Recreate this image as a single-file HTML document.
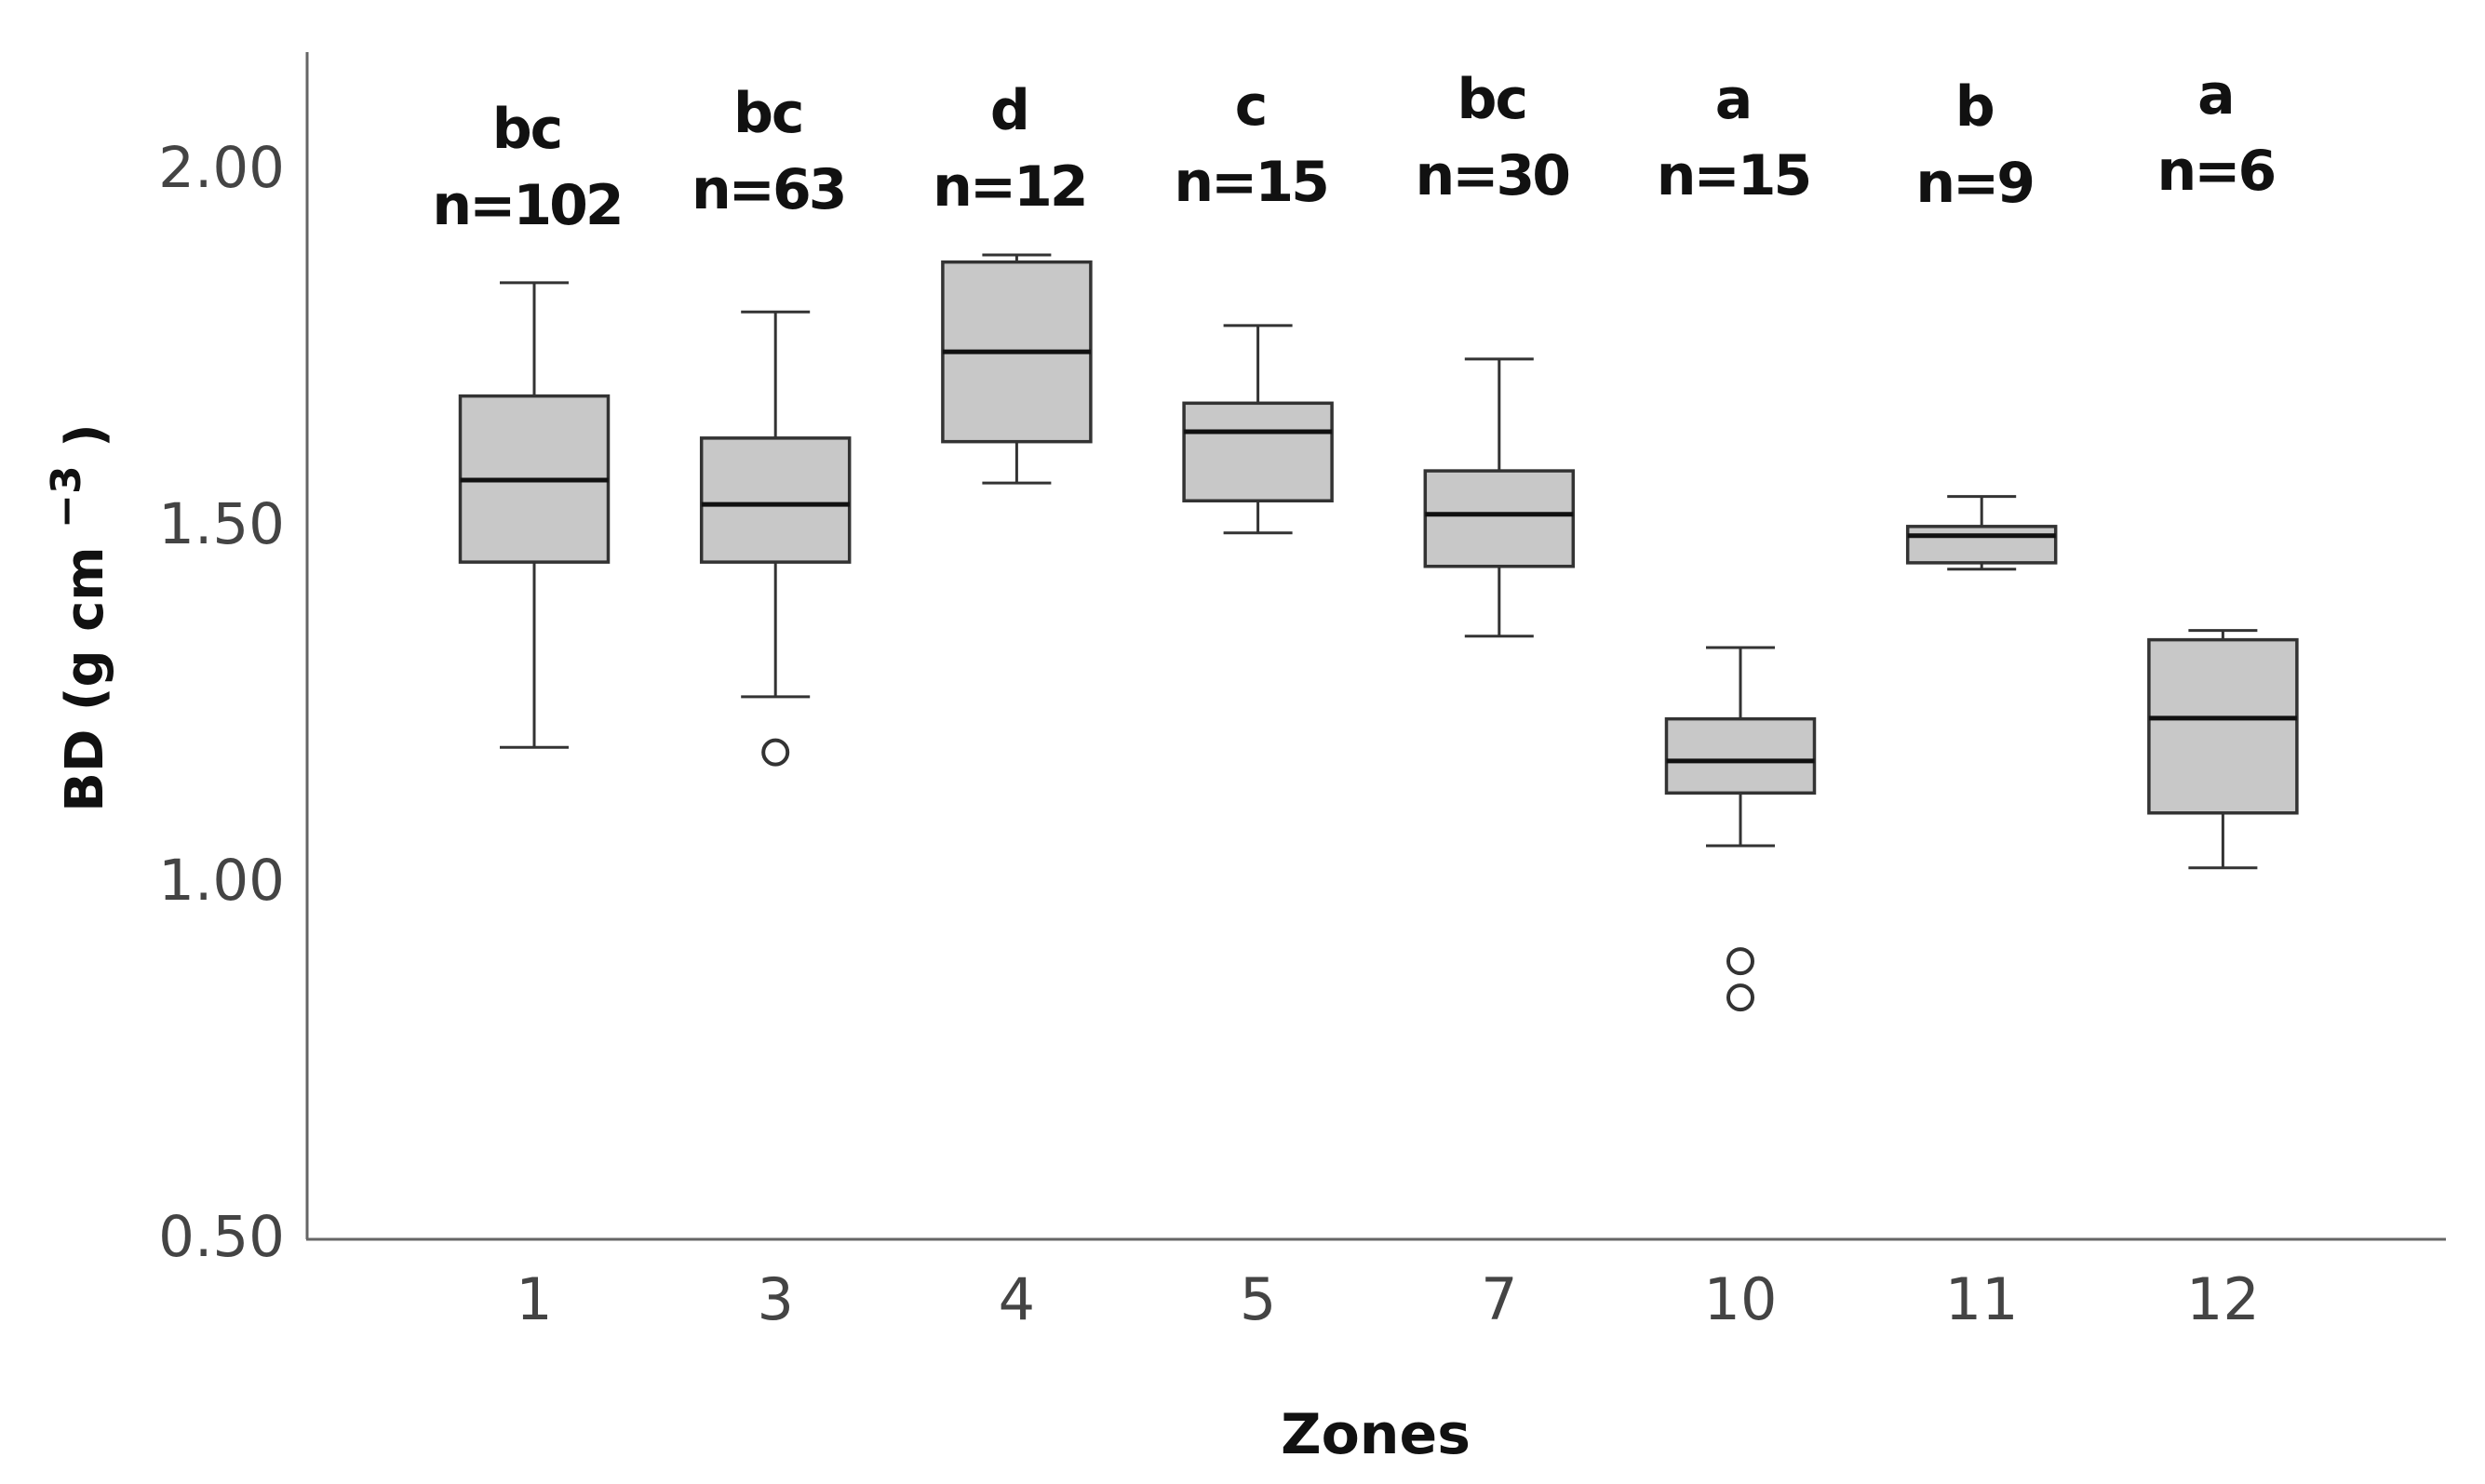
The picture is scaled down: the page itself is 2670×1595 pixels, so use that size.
<!DOCTYPE html>
<html><head><meta charset="utf-8"><style>
html,body{margin:0;padding:0;background:#fff;}
svg{display:block;}
</style></head><body>
<svg id="chart" width="2670" height="1595" viewBox="0 0 2670 1595" xmlns="http://www.w3.org/2000/svg">
<g id="axes"></g>
<g id="boxes"></g>
<g id="labels"></g>
</svg>
<script>
const zones = ["1","3","4","5","7","10","11","12"];
const whiskerLow = [1.185,1.256,1.556,1.486,1.341,1.047,1.435,1.016];
const q1 = [1.445,1.445,1.614,1.531,1.439,1.121,1.444,1.093];
const medians = [1.560,1.526,1.740,1.628,1.512,1.166,1.482,1.226];
const q3 = [1.678,1.619,1.866,1.668,1.573,1.225,1.495,1.336];
const whiskerHigh = [1.837,1.796,1.876,1.777,1.730,1.325,1.537,1.349];
const outlierZone = [1,5,5];
const outlierValue = [1.178,0.885,0.834];
const groupLetters = ["bc","bc","d","c","bc","a","b","a"];
const sampleSizes = [102,63,12,15,30,15,9,6];
const yTicks = [0.5,1.0,1.5,2.0];
const yTickLabels = ["0.50","1.00","1.50","2.00"];

// layout only
const labelBaseline = [241,224,221,216,209,209,217,204];

const NS="http://www.w3.org/2000/svg";
function y(v){return 1328-(v-0.5)*766;}
function x(i){return 574+i*259.2;}
function mk(tag,attrs,parent){const e=document.createElementNS(NS,tag);for(const k in attrs)e.setAttribute(k,attrs[k]);parent.appendChild(e);return e;}
const axes=document.getElementById('axes'),boxes=document.getElementById('boxes'),labels=document.getElementById('labels');
const FONT='DejaVu Sans, sans-serif';

let e=mk('line',{x1:330,y1:56,x2:330,y2:1332,stroke:'#666','stroke-width':3},axes);


e=mk('line',{x1:329,y1:1332,x2:2628,y2:1332,stroke:'#666','stroke-width':3},axes);



yTicks.forEach((v,i)=>{
  const t=mk('text',{x:306,y:y(v)+22,'text-anchor':'end','font-family':FONT,'font-size':61,fill:'#444'},axes);
  t.textContent=yTickLabels[i];
  
  
});

const bw=159;
zones.forEach((z,i)=>{
  const cx=x(i);
  const g=mk('g',{},boxes);
  
  
  const st={stroke:'#333','stroke-width':3};
  mk('line',Object.assign({x1:cx,x2:cx,y1:y(whiskerHigh[i]),y2:y(q3[i])},st),g);
  mk('line',Object.assign({x1:cx,x2:cx,y1:y(q1[i]),y2:y(whiskerLow[i])},st),g);
  mk('line',Object.assign({x1:cx-37,x2:cx+37,y1:y(whiskerHigh[i]),y2:y(whiskerHigh[i])},st),g);
  mk('line',Object.assign({x1:cx-37,x2:cx+37,y1:y(whiskerLow[i]),y2:y(whiskerLow[i])},st),g);
  mk('rect',{x:cx-bw/2,y:y(q3[i]),width:bw,height:y(q1[i])-y(q3[i]),fill:'#c8c8c8',stroke:'#333','stroke-width':3.5},g);
  mk('line',{x1:cx-bw/2,x2:cx+bw/2,y1:y(medians[i]),y2:y(medians[i]),stroke:'#111','stroke-width':5},g);

  const t=mk('text',{x:cx,y:1418,'text-anchor':'middle','font-family':FONT,'font-size':62,fill:'#444'},labels);
  t.textContent=z;
  
  
  const by=labelBaseline[i];
  const l=mk('text',{x:cx-8,y:by-82,'text-anchor':'middle','font-family':FONT,'font-weight':'bold','font-size':60,'letter-spacing':-2,fill:'#111'},labels);
  l.textContent=groupLetters[i];
  
  
  const n=mk('text',{x:cx-8,y:by,'text-anchor':'middle','font-family':FONT,'font-weight':'bold','font-size':60,'letter-spacing':-3,fill:'#111'},labels);
  n.textContent='n='+sampleSizes[i];
  
  
});

outlierZone.forEach((zi,k)=>{
  const c=mk('circle',{cx:x(zi),cy:y(outlierValue[k]),r:13,fill:'none',stroke:'#333','stroke-width':4},boxes);
  
  
});

let xt=mk('text',{x:1478,y:1562,'text-anchor':'middle','font-family':FONT,'font-weight':'bold','font-size':60,fill:'#111'},labels);
xt.textContent='Zones';


let yt=mk('text',{x:0,y:0,'text-anchor':'middle','font-family':FONT,'font-weight':'bold','font-size':56,fill:'#111',transform:'translate(110,664) rotate(-90)'},labels);
yt.innerHTML='BD (g cm <tspan dy="-24" font-size="44">−3</tspan><tspan dy="24"> )</tspan>';


</script>
</body></html>
